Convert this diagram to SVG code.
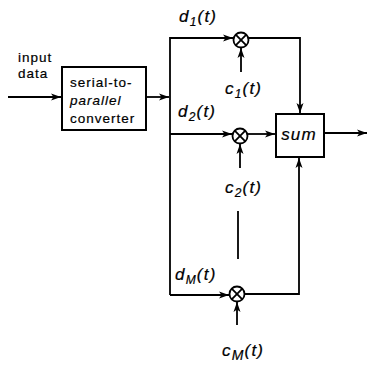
<svg xmlns="http://www.w3.org/2000/svg" width="370" height="366" viewBox="0 0 370 366">
<style>
.ln{fill:none;stroke:#000;stroke-width:1.8}
.box{fill:#fff;stroke:#000;stroke-width:2}
.mul{fill:#fff;stroke:#000;stroke-width:1.8}
.t{font-family:"Liberation Sans",Arial,sans-serif;font-size:13.5px;letter-spacing:1px;fill:#000;stroke:#000;stroke-width:0.2}
.m{font-family:"Liberation Sans",Arial,sans-serif;font-style:italic;font-size:17px;letter-spacing:1.2px;fill:#000;stroke:#000;stroke-width:0.2}
</style>
<defs>
<marker id="ah" markerUnits="userSpaceOnUse" markerWidth="11" markerHeight="8" refX="10" refY="4" orient="auto">
<path d="M0,0.5 L10,4 L0,7.5 L2.5,4 z" fill="#000"/>
</marker>
</defs>
<g id="connectors">
<path class="ln" d="M8,97 H61" marker-end="url(#ah)"/>
<path class="ln" d="M146,97 H169" marker-end="url(#ah)"/>
<path class="ln" d="M170,295 V38 H233" marker-end="url(#ah)"/>
<path class="ln" d="M170,134 H232" marker-end="url(#ah)"/>
<path class="ln" d="M170,295 H229" marker-end="url(#ah)"/>
<path class="ln" d="M248,38 H300 V113" marker-end="url(#ah)"/>
<path class="ln" d="M248,134 H275" marker-end="url(#ah)"/>
<path class="ln" d="M244,294 H299 V158" marker-end="url(#ah)"/>
<path class="ln" d="M324,133 H367" marker-end="url(#ah)"/>
<path class="ln" d="M241,72 V48" marker-end="url(#ah)"/>
<path class="ln" d="M240,168 V144" marker-end="url(#ah)"/>
<path class="ln" d="M237,325 V302" marker-end="url(#ah)"/>
<path class="ln" d="M238,211 V259"/>
</g>
<g id="input">
<text class="t" x="18" y="62">input</text>
<text class="t" x="18" y="78">data</text>
</g>
<g id="s2p">
<rect class="box" x="62" y="67" width="84" height="63"/>
<text class="t" x="70" y="87">serial-to-</text>
<text class="t" x="70" y="105" font-style="italic">parallel</text>
<text class="t" x="70" y="123">converter</text>
</g>
<g id="mult1">
<circle class="mul" cx="241" cy="40" r="7.5"/>
<path class="ln" d="M235.7,34.7 L246.3,45.3 M246.3,34.7 L235.7,45.3"/>
</g>
<g id="mult2">
<circle class="mul" cx="240" cy="136" r="7.5"/>
<path class="ln" d="M234.7,130.7 L245.3,141.3 M245.3,130.7 L234.7,141.3"/>
</g>
<g id="multM">
<circle class="mul" cx="237" cy="294" r="7.5"/>
<path class="ln" d="M231.7,288.7 L242.3,299.3 M242.3,288.7 L231.7,299.3"/>
</g>
<g id="sum">
<rect class="box" x="276" y="114" width="48" height="43"/>
<text class="m" x="299" y="140" text-anchor="middle" font-size="15" letter-spacing="0.5">sum</text>
</g>
<g id="labels">
<text class="m" x="179" y="22">d<tspan font-size="12" dy="4">1</tspan><tspan dy="-4">(t)</tspan></text>
<text class="m" x="225" y="94">c<tspan font-size="12" dy="4">1</tspan><tspan dy="-4">(t)</tspan></text>
<text class="m" x="178" y="117">d<tspan font-size="12" dy="4">2</tspan><tspan dy="-4">(t)</tspan></text>
<text class="m" x="225" y="193">c<tspan font-size="12" dy="4">2</tspan><tspan dy="-4">(t)</tspan></text>
<text class="m" x="175" y="280">d<tspan font-size="12" dy="4">M</tspan><tspan dy="-4">(t)</tspan></text>
<text class="m" x="222" y="356" font-size="21" letter-spacing="1.8">c<tspan font-size="14" dy="4">M</tspan><tspan dy="-4">(t)</tspan></text>
</g>
</svg>
